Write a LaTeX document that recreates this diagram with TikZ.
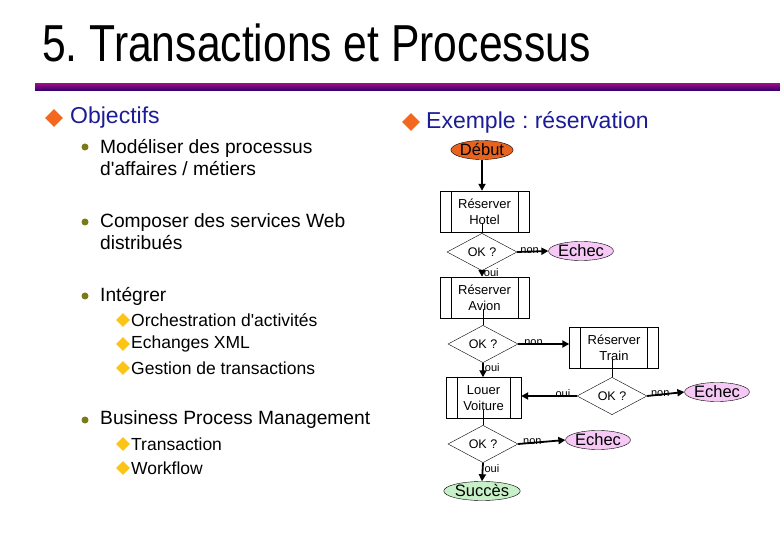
\documentclass[tikz,border=0pt]{standalone}
\usepackage{fontspec}
\setmainfont{Liberation Sans}
\newfontfamily\titlefont[FakeStretch=0.82]{Liberation Sans}
\frenchspacing
\usetikzlibrary{
    arrows.meta,
    positioning,
    shapes.geometric
}
\definecolor{bar top}{RGB}{150,10,130}
\definecolor{bar bottom}{RGB}{40,0,110}
\tikzset{
    % Colors
    heading color/.style={color={rgb,255:red,28;green,28;blue,150}},
    orange mark/.style={fill={rgb,255:red,242;green,104;blue,30}},
    olive mark/.style={fill={rgb,255:red,122;green,122;blue,24}},
    yellow mark/.style={fill={rgb,255:red,252;green,196;blue,20}},
    start fill/.style={fill={rgb,255:red,232;green,100;blue,30}},
    fail fill/.style={fill={rgb,255:red,245;green,200;blue,245}},
    done fill/.style={fill={rgb,255:red,200;green,240;blue,200}},
    %
    % Texts
    heading/.style={anchor=west,inner sep=0pt,heading color,font=\fontsize{23}{27}\selectfont},
    item/.style={anchor=west,inner sep=0pt,align=left,font=\fontsize{19.2}{22}\selectfont},
    subitem/.style={anchor=west,inner sep=0pt,font=\fontsize{17.5}{20}\selectfont},
    %
    % Bullets
    big bullet/.style={diamond,inner sep=0pt,minimum size=18pt,orange mark},
    dot bullet/.style={circle,inner sep=0pt,minimum size=7pt,olive mark},
    small bullet/.style={diamond,inner sep=0pt,minimum size=14pt,yellow mark},
    %
    % Flowchart
    terminal/.style={ellipse,draw,inner sep=0pt,minimum width=62pt,minimum height=19pt,font=\fontsize{16.5}{18}\selectfont},
    process box/.style={draw,inner sep=0pt,minimum width=89pt,minimum height=41pt,align=center,
        font=\fontsize{13}{16}\selectfont,
        path picture={
            \draw ([xshift=11pt]path picture bounding box.north west) -- ([xshift=11pt]path picture bounding box.south west);
            \draw ([xshift=-11pt]path picture bounding box.north east) -- ([xshift=-11pt]path picture bounding box.south east);
        }},
    decision/.style={diamond,draw,inner sep=0pt,minimum width=70pt,minimum height=36pt,font=\fontsize{12.5}{14}\selectfont},
    %
    % Arrows
    arrow tip/.tip={Triangle[length=7pt,width=7pt]},
    arr/.style={->,>={arrow tip},line width=1.8pt},
    link/.style={thin},
    answer/.style={font=\fontsize{11}{12}\selectfont,inner sep=1pt}
}

\begin{document}
\begin{tikzpicture}[x=1pt,y=-1pt]
    \useasboundingbox[fill=white] (0,0) rectangle (780,540);

    \node[anchor=base west,inner sep=0pt,font=\titlefont\fontsize{52}{56}\selectfont] (title) at (42,62) {5. Transactions et Processus};
    \shade[top color=bar top,bottom color=bar bottom] (35,84) rectangle (780,91);

    % left column
    \node[big bullet] (b1) at (54,118) {};
    \node[heading] (objectifs) at (70,118) {Objectifs};

    \node[dot bullet] (d1) at (85,147) {};
    \node[item,anchor=base west] (model) at (100,176) {Modéliser des processus\\d\textquotesingle affaires / métiers};
    \node[dot bullet] (d2) at (85,222) {};
    \node[item,anchor=base west] (compose) at (100,250) {Composer des services Web\\distribués};
    \node[dot bullet] (d3) at (85,296) {};
    \node[item] (integrer) at (100,296) {Intégrer};

    \node[small bullet] (s1) at (123,320) {};
    \node[subitem] (orch) at (131,320) {Orchestration d\textquotesingle activités};
    \node[small bullet] (s2) at (123,344) {};
    \node[subitem] (xml) at (131,344) {Echanges XML};
    \node[small bullet] (s3) at (123,368) {};
    \node[subitem] (gestion) at (131,368) {Gestion de transactions};

    \node[dot bullet] (d4) at (85,420) {};
    \node[item] (bpm) at (100,420) {Business Process Management};
    \node[small bullet] (s4) at (123,444) {};
    \node[subitem] (trans) at (131,444) {Transaction};
    \node[small bullet] (s5) at (123,468) {};
    \node[subitem] (workflow) at (131,468) {Workflow};

    % right column
    \node[big bullet] (b2) at (411,122) {};
    \node[heading] (exemple) at (426,122) {Exemple : réservation};

    \node[terminal,start fill] (debut) at (482,150) {Début};
    \node[process box] (hotel) at (484.5,211.5) {Réserver\\Hotel};
    \node[decision] (ok1) at (482,252) {OK ?};
    \node[terminal,fail fill,minimum width=58pt] (echec1) at (581,251) {Echec};
    \node[process box] (avion) at (484.5,297.5) {Réserver\\Avion};
    \node[decision] (ok2) at (483,344) {OK ?};
    \node[process box] (train) at (614,348) {Réserver\\Train};
    \node[decision] (ok3) at (612,396) {OK ?};
    \node[terminal,fail fill] (echec3) at (717,392) {Echec};
    \node[process box,minimum width=75pt] (voiture) at (483.5,398) {Louer\\Voiture};
    \node[decision] (ok4) at (483,444) {OK ?};
    \node[terminal,fail fill] (echec2) at (598,440) {Echec};
    \node[terminal,done fill] (succes) at (482,491) {Succès};

    \draw[arr] (debut.south) -- (debut.south |- hotel.north);
    \draw[link] ([yshift=9pt]hotel.south -| ok1.north) -- (ok1.north);
    \draw[arr] (ok1.south) -- node[answer,pos=.35,right] {oui} (ok1.south |- avion.north);
    \draw[arr] (ok1.east) -- node[answer,pos=.4,above=-4pt] {non} (echec1.west);
    \draw[link] ([yshift=9pt]avion.south -| ok2.north) -- (ok2.north);
    \draw[arr] (ok2.south) -- node[answer,pos=.3,right] {oui} (ok2.south |- voiture.north);
    \draw[arr] (ok2.east) -- node[answer,pos=.3,above=-4pt] {non} (ok2.east -| train.west);
    \draw[link] ([yshift=10pt]train.south -| ok3.north) -- (ok3.north);
    \draw[arr] (ok3.west) -- node[answer,pos=.25,above=-4pt] {oui} (ok3.west -| voiture.east);
    \draw[arr] (ok3.east) -- node[answer,pos=.35,above=-4pt] {non} (echec3.west);
    \draw[link] ([yshift=10pt]voiture.south -| ok4.north) -- (ok4.north);
    \draw[arr] (ok4.south) -- node[answer,pos=.3,right] {oui} (succes.north);
    \draw[arr] (ok4.east) -- node[answer,pos=.3,above=-4pt] {non} (echec2.west);
\end{tikzpicture}
\end{document}
